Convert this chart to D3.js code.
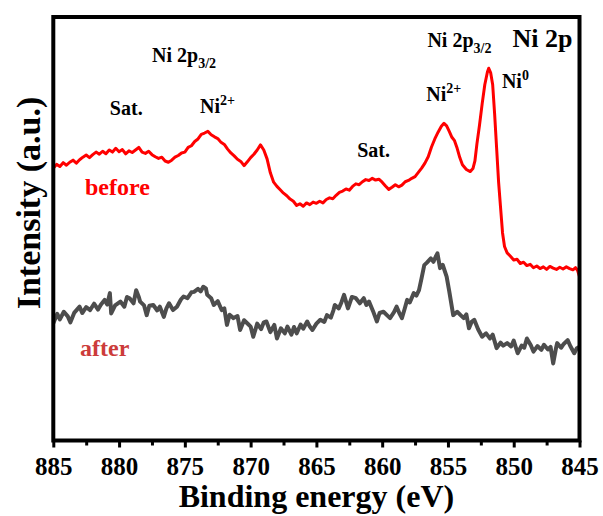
<!DOCTYPE html>
<html>
<head>
<meta charset="utf-8">
<script src="https://cdn.jsdelivr.net/npm/d3@7"></script>
<style>
  body { margin: 0; background: #fff; }
  svg { display: block; }
  svg text { font-family: "Liberation Serif", "Times New Roman", serif; font-weight: bold; }
</style>
</head>
<body>
<div id="canvas"></div>
<script>
"use strict";

// Canvas setup
let svgWidth = 603;
let svgHeight = 516;
let margin = { top: 17, right: 23.5, bottom: 75.5, left: 53.3 };
let chartWidth = svgWidth - margin.left - margin.right;
let chartHeight = svgHeight - margin.top - margin.bottom;

// Data — Ni 2p XPS, binding energy (eV) vs intensity (a.u.)
let xTicks = [885, 880, 875, 870, 865, 860, 855, 850, 845];

let beforeEnergy = [885.0,884.75,884.5,884.25,884.0,883.75,883.5,883.25,883.0,882.75,882.5,882.25,882.0,881.75,881.5,881.25,881.0,880.75,880.5,880.25,880.0,879.75,879.5,879.25,879.0,878.75,878.5,878.25,878.0,877.75,877.5,877.25,877.0,876.75,876.5,876.25,876.0,875.75,875.5,875.25,875.0,874.75,874.5,874.25,874.0,873.75,873.5,873.25,873.0,872.75,872.5,872.25,872.0,871.75,871.5,871.25,871.0,870.75,870.5,870.25,870.0,869.75,869.5,869.25,869.0,868.75,868.5,868.25,868.0,867.75,867.5,867.25,867.0,866.75,866.5,866.25,866.0,865.75,865.5,865.25,865.0,864.75,864.5,864.25,864.0,863.75,863.5,863.25,863.0,862.75,862.5,862.25,862.0,861.75,861.5,861.25,861.0,860.75,860.5,860.25,860.0,859.75,859.5,859.25,859.0,858.75,858.5,858.25,858.0,857.75,857.5,857.25,857.0,856.75,856.5,856.25,856.0,855.75,855.5,855.3,855.1,854.9,854.7,854.5,854.3,854.1,853.9,853.6,853.3,853.1,852.95,852.8,852.6,852.4,852.2,852.0,851.9,851.75,851.6,851.45,851.3,851.15,851.0,850.85,850.7,850.5,850.25,850.0,849.75,849.5,849.25,849.0,848.75,848.5,848.25,848.0,847.75,847.5,847.25,847.0,846.75,846.5,846.25,846.0,845.75,845.5,845.3,845.15,845.0];
let beforeIntensity = [64.3,65.2,64.7,65.6,65.0,65.7,66.2,65.5,66.3,66.9,67.4,66.8,67.5,68.1,67.6,68.3,67.7,68.6,68.1,69.0,68.2,68.7,67.7,68.4,68.0,68.6,69.2,68.1,67.8,68.3,67.5,67.0,66.6,66.9,66.0,65.7,66.2,66.9,67.3,67.9,68.1,69.2,69.6,70.6,71.2,72.3,72.6,73.0,72.2,71.7,71.3,70.4,69.9,68.8,67.9,67.2,66.4,65.9,64.9,65.8,66.8,67.6,68.6,69.8,68.6,66.5,63.2,61.0,60.0,59.2,58.4,57.8,57.0,56.5,55.5,55.9,55.3,56.1,55.7,56.3,56.0,56.5,56.1,56.9,57.3,57.1,57.9,58.6,58.9,59.4,59.1,60.0,60.6,60.4,61.1,61.6,61.4,61.9,61.5,61.7,61.0,60.1,59.3,59.8,60.4,59.9,60.3,61.1,61.4,61.9,62.3,63.3,64.3,65.5,67.0,69.3,71.2,72.8,74.2,74.9,74.3,73.0,71.6,70.8,69.0,66.8,65.1,64.0,63.5,64.2,66.0,70.0,74.5,79.5,84.0,87.0,87.9,86.8,84.0,77.0,69.0,61.0,55.0,49.0,45.8,44.3,43.5,42.6,42.8,41.8,42.1,41.3,41.6,40.8,41.2,40.6,41.0,40.4,41.1,40.7,40.4,40.9,40.5,41.0,40.6,40.3,40.8,40.2,38.7];

let afterEnergy = [885.0,884.7,884.5,884.2,883.9,883.7,883.4,883.0,882.8,882.5,882.2,881.9,881.6,881.4,881.1,880.9,880.7,880.6,880.3,879.9,879.6,879.4,879.2,878.9,878.7,878.5,878.4,878.1,877.9,877.7,877.4,877.1,876.9,876.6,876.4,876.2,875.9,875.6,875.3,875.1,874.8,874.5,874.3,874.0,873.8,873.6,873.4,873.3,873.0,872.8,872.5,872.2,872.0,871.8,871.6,871.3,871.0,870.8,870.5,870.2,870.0,869.8,869.5,869.2,869.0,868.8,868.5,868.2,868.0,867.7,867.4,867.2,866.9,866.7,866.5,866.2,866.0,865.7,865.5,865.3,865.0,864.7,864.4,864.2,863.9,863.7,863.6,863.3,863.1,862.9,862.6,862.3,862.0,861.7,861.4,861.2,861.0,860.7,860.4,860.2,859.9,859.6,859.4,859.1,858.9,858.7,858.5,858.3,858.1,857.9,857.6,857.4,857.2,857.0,856.8,856.6,856.3,856.1,855.9,855.8,855.6,855.4,855.1,854.9,854.6,854.3,854.0,853.8,853.6,853.4,853.2,853.0,852.7,852.4,852.1,851.8,851.6,851.3,851.0,850.8,850.5,850.2,850.0,849.7,849.4,849.2,849.0,848.7,848.5,848.2,847.9,847.7,847.4,847.2,847.0,846.8,846.7,846.4,846.2,845.9,845.7,845.4,845.2,845.0];
let afterIntensity = [27.7,29.9,28.6,30.4,29.3,27.9,30.2,31.6,30.1,31.5,30.8,32.3,30.9,32.0,33.2,32.1,34.8,30.0,31.9,32.8,31.6,33.9,33.6,32.4,35.5,33.9,32.8,31.9,29.6,31.8,32.0,30.7,31.6,29.2,31.2,32.4,30.8,31.6,33.3,34.0,33.6,35.0,35.1,35.8,35.2,36.3,35.9,34.4,33.6,32.0,32.9,30.8,31.2,27.3,29.7,28.9,29.4,26.1,28.4,27.5,26.9,24.5,27.6,26.3,27.9,28.1,25.6,27.3,24.1,26.5,25.3,26.9,25.0,26.8,25.3,27.4,26.4,28.1,26.9,26.1,27.6,28.5,28.0,29.6,29.0,30.8,32.0,31.2,32.6,34.4,31.2,33.9,33.6,32.4,33.6,32.0,32.8,30.6,28.1,30.1,30.4,29.5,28.9,30.3,31.6,30.1,28.9,31.0,33.2,32.6,34.8,34.2,35.5,38.4,41.4,42.0,43.0,42.2,43.6,44.2,40.7,41.5,38.7,35.2,29.6,30.4,29.5,28.9,29.8,26.5,28.0,28.5,26.2,24.5,25.3,24.1,25.0,21.8,23.1,22.4,23.0,22.2,23.6,20.6,22.4,21.9,24.1,22.5,21.0,22.3,21.4,22.6,21.5,22.1,18.2,21.6,23.0,21.9,22.8,23.7,22.3,20.6,21.8,22.1];

// Annotations: text, energy, intensity (text baseline), optional size and colour
let labels = [
  { text: "Sat.", e: 880.7, i: 76.9 },
  { text: "Ni", sup: "2+", e: 873.84, i: 77.3 },
  { text: "Ni 2p", sub: "3/2", e: 877.49, i: 89.4 },
  { text: "Sat.", e: 861.9, i: 66.9 },
  { text: "Ni", sup: "2+", e: 856.64, i: 80.2 },
  { text: "Ni 2p", sub: "3/2", e: 856.56, i: 92.9 },
  { text: "Ni", sup: "0", e: 850.9, i: 83.2 },
  { text: "Ni 2p", e: 850.1, i: 92.9, size: 26 },
  { text: "before", e: 882.59, i: 58.0, size: 24, color: "#ff0000" },
  { text: "after", e: 882.97, i: 20.0, size: 24, color: "#cc3b3b" }
];

let svg = d3.select("#canvas")
  .append("svg")
  .attr("width", svgWidth)
  .attr("height", svgHeight);

let chartArea = svg.append("g")
  .attr("transform", "translate(" + margin.left + "," + margin.top + ")");

// Scales (x reversed, as usual for XPS)
let xScale = d3.scaleLinear().domain([885, 845]).range([0, chartWidth]);
let yScale = d3.scaleLinear().domain([0, 100]).range([chartHeight, 0]);

// Clip
svg.append("defs").append("clipPath").attr("id", "clip")
  .append("rect").attr("width", chartWidth).attr("height", chartHeight);

let line = d3.line()
  .x(function(d){ return xScale(d[0]); })
  .y(function(d){ return yScale(d[1]); });

let beforeData = d3.zip(beforeEnergy, beforeIntensity);
let afterData = d3.zip(afterEnergy, afterIntensity);

chartArea.append("path")
  .datum(afterData)
  .attr("clip-path", "url(#clip)")
  .attr("fill", "none")
  .attr("stroke", "#4d4d4d")
  .attr("stroke-width", 4)
  .attr("stroke-linejoin", "round")
  .attr("d", line);

chartArea.append("path")
  .datum(beforeData)
  .attr("clip-path", "url(#clip)")
  .attr("fill", "none")
  .attr("stroke", "#ff0000")
  .attr("stroke-width", 3)
  .attr("stroke-linejoin", "round")
  .attr("d", line);

// Bottom axis with major + minor ticks
let minorTicks = d3.range(882.5, 845, -5);
chartArea.append("g")
  .attr("transform", "translate(0," + chartHeight + ")")
  .call(d3.axisBottom(xScale).tickValues(minorTicks).tickSize(5).tickFormat(""))
  .call(function(g){
    g.select(".domain").remove();
    g.selectAll("line").attr("stroke", "#000").attr("stroke-width", 3);
  });

let xAxis = chartArea.append("g")
  .attr("transform", "translate(0," + chartHeight + ")")
  .call(d3.axisBottom(xScale).tickValues(xTicks).tickSize(7).tickPadding(10).tickFormat(d3.format("d")));
xAxis.attr("font-family", null).attr("font-size", null);
xAxis.select(".domain").remove();
xAxis.selectAll("line").attr("stroke", "#000").attr("stroke-width", 3);
xAxis.selectAll("text")
  .attr("fill", "#000")
  .attr("font-size", 25);

// Frame
chartArea.append("rect")
  .attr("width", chartWidth)
  .attr("height", chartHeight)
  .attr("fill", "none")
  .attr("stroke", "#000")
  .attr("stroke-width", 4);

// Annotations
labels.forEach(function(l){
  let t = chartArea.append("text")
    .attr("x", xScale(l.e))
    .attr("y", yScale(l.i))
    .attr("fill", l.color || "#000")
    .attr("font-size", l.size || 20)
    .text(l.text);
  if (l.sup) {
    t.append("tspan").attr("dy", -8).attr("font-size", 14).text(l.sup);
  }
  if (l.sub) {
    t.append("tspan").attr("dy", 6).attr("font-size", 14).text(l.sub);
  }
});

// Axis titles
svg.append("text")
  .attr("x", margin.left + chartWidth / 2)
  .attr("y", 507)
  .attr("text-anchor", "middle")
  .attr("font-size", 32)
  .text("Binding energy (eV)");

svg.append("text")
  .attr("transform", "translate(40,203) rotate(-90)")
  .attr("text-anchor", "middle")
  .attr("font-size", 34)
  .text("Intensity (a.u.)");
</script>
</body>
</html>
